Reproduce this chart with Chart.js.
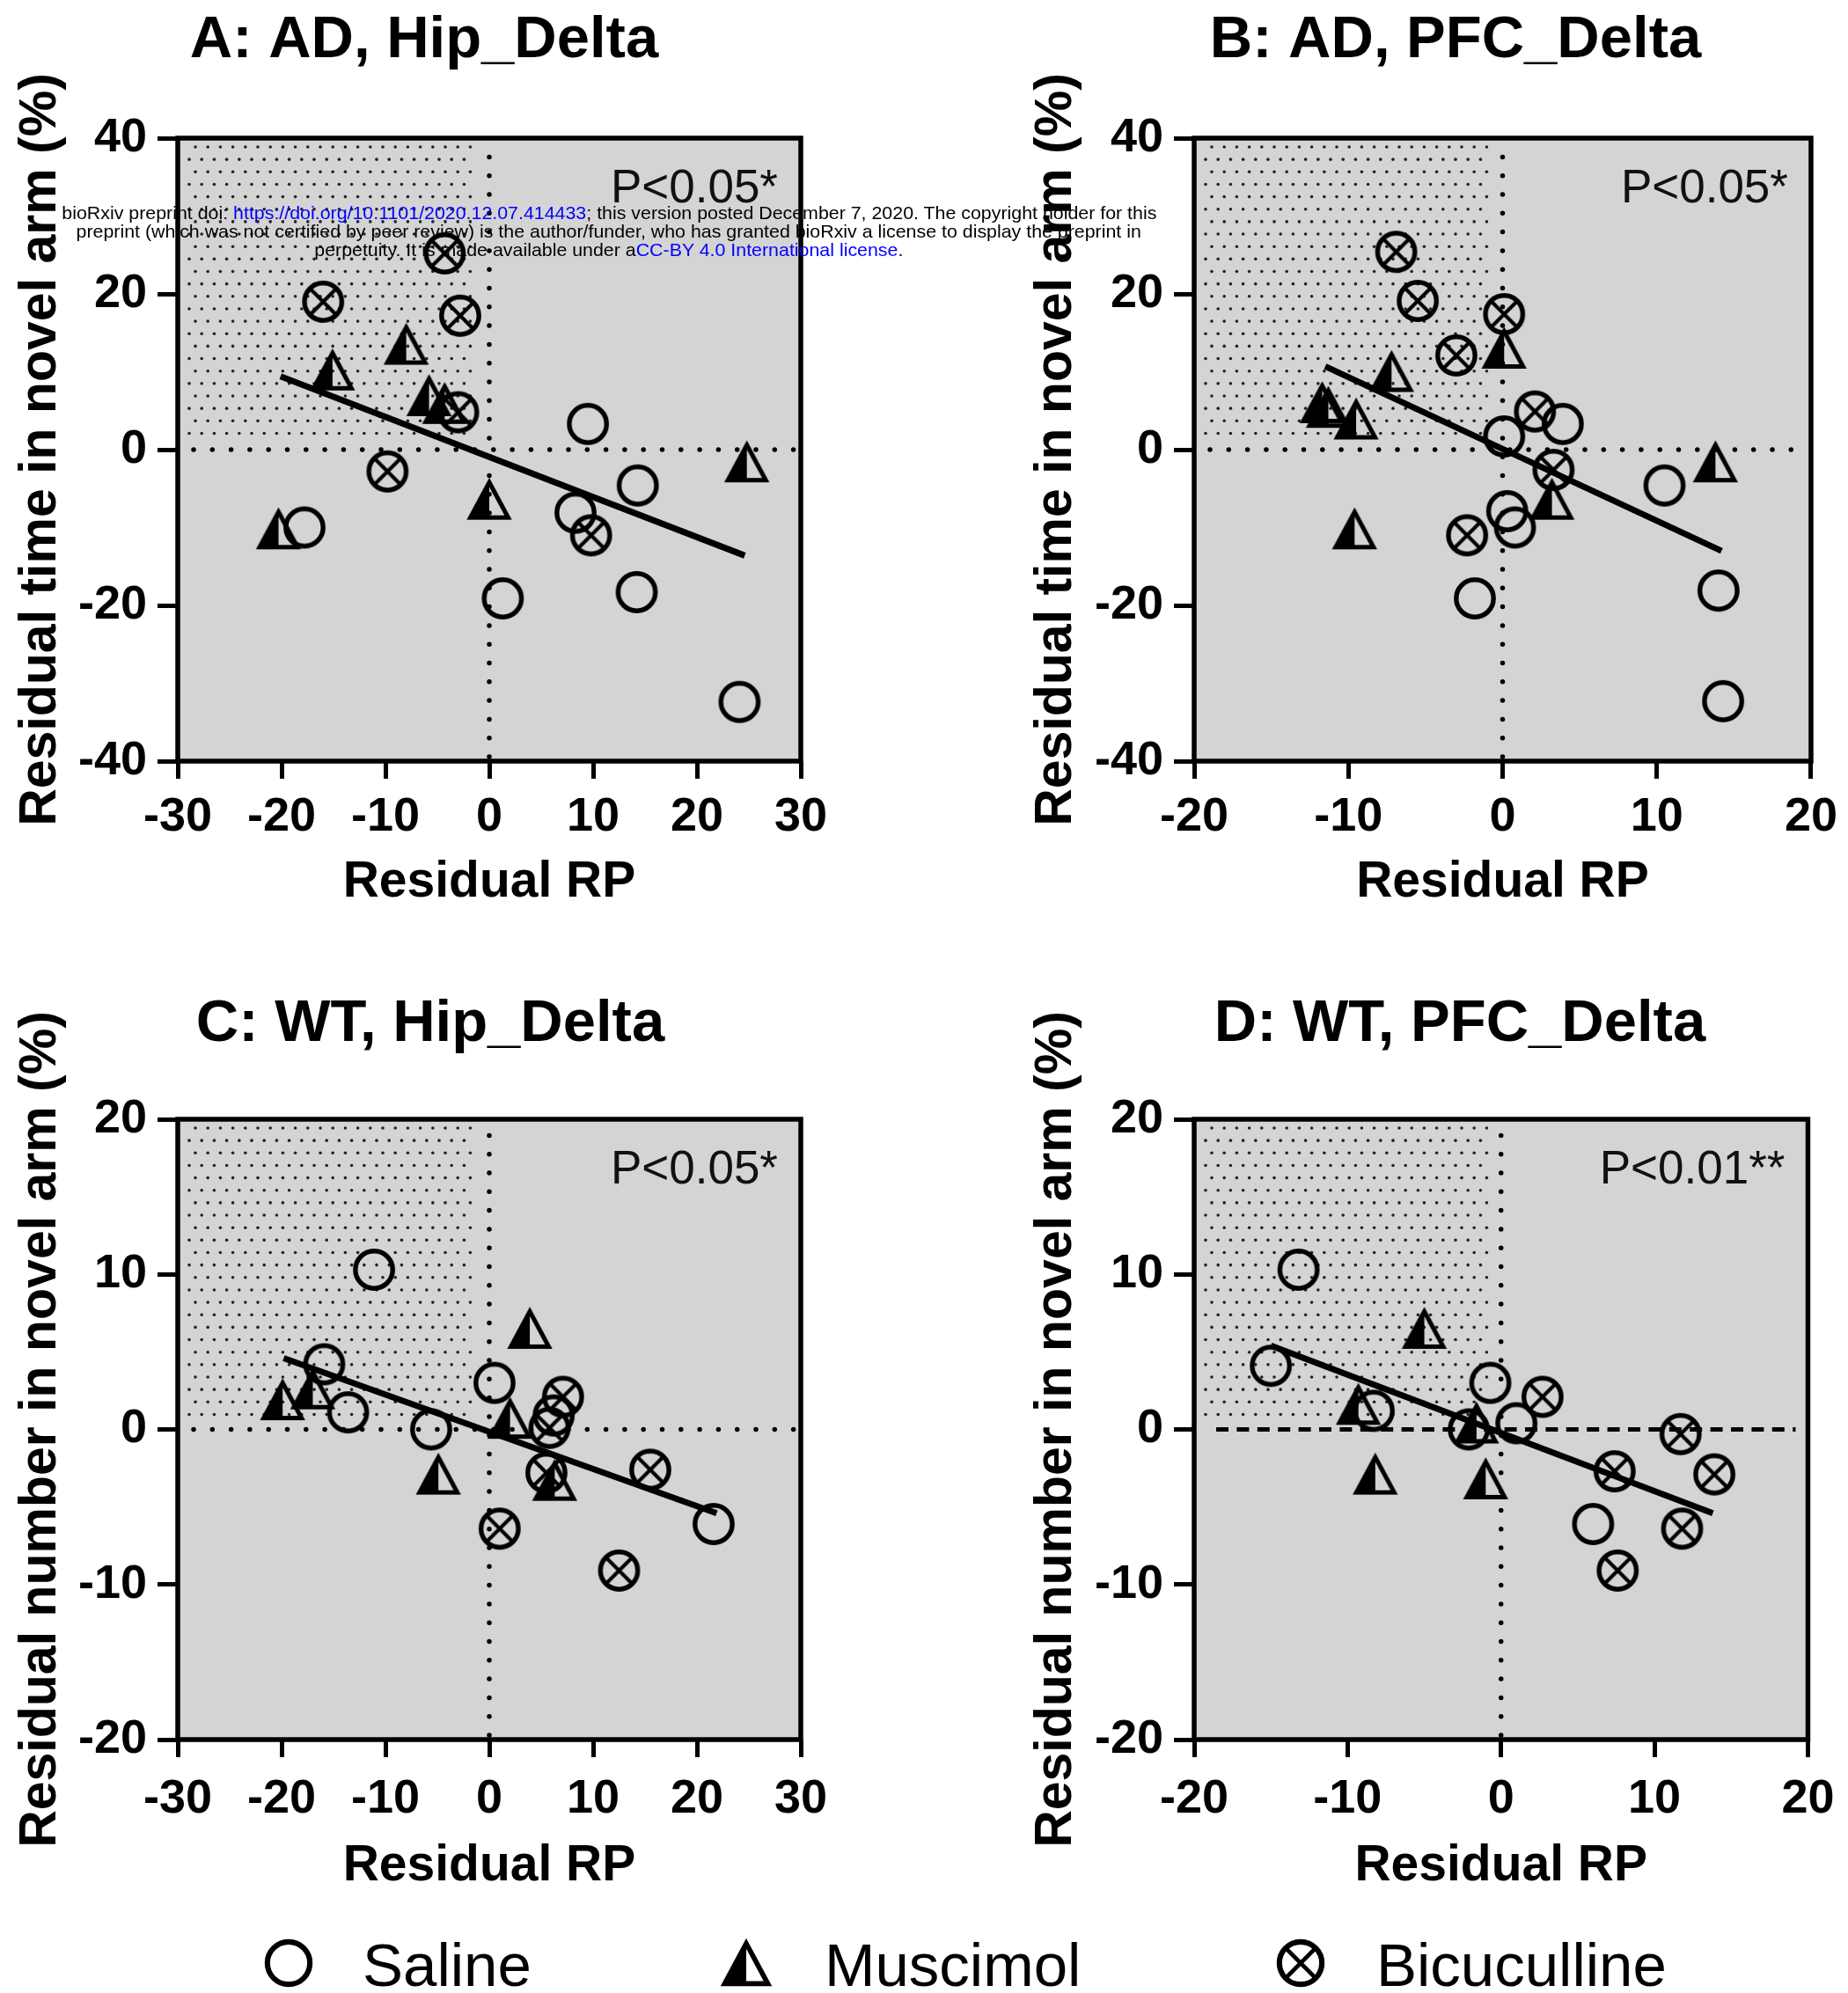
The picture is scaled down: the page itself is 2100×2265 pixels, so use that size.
<!DOCTYPE html>
<html>
<head>
<meta charset="utf-8">
<script src="https://cdn.jsdelivr.net/npm/chart.js@4.4.1/dist/chart.umd.min.js"></script>
<style>
html, body { margin:0; padding:0; background:#ffffff; width:2100px; height:2265px; overflow:hidden; position:relative; }
canvas.panel { position:absolute; }
.wm { position:absolute; left:0; width:1384px; text-align:center; font-family:'Liberation Sans', Arial, Helvetica, sans-serif; font-size:21px; line-height:21px; white-space:nowrap; color:#000; z-index:5; }
.wm span.in { display:inline-block; transform-origin:50% 50%; }
.lk { color:#0000ff; }
.lt { position:absolute; font-family:'Liberation Sans', Arial, Helvetica, sans-serif; font-size:69px; line-height:69px; color:#000; white-space:nowrap; }
.lm { position:absolute; }
</style>
</head>
<body>
<canvas class="panel" id="cA" width="960" height="1040" style="left:0px;top:0px"></canvas>
<canvas class="panel" id="cB" width="1050" height="1040" style="left:1050px;top:0px"></canvas>
<canvas class="panel" id="cC" width="960" height="1040" style="left:0px;top:1115px"></canvas>
<canvas class="panel" id="cD" width="1050" height="1040" style="left:1050px;top:1115px"></canvas>

<div class="wm" style="top:231px"><span class="in">bioRxiv preprint doi: <span class="lk">https://doi.org/10.1101/2020.12.07.414433</span>; this version posted December 7, 2020. The copyright holder for this</span></div>
<div class="wm" style="top:252px"><span class="in">preprint (which was not certified by peer review) is the author/funder, who has granted bioRxiv a license to display the preprint in</span></div>
<div class="wm" style="top:273px"><span class="in">perpetuity. It is made available under a<span class="lk">CC-BY 4.0 International license</span>.</span></div>

<div id="legend"></div>

<script>
// ---------------- DATA ----------------
const xTicksHip = [-30, -20, -10, 0, 10, 20, 30];
const xTicksPfc = [-20, -10, 0, 10, 20];
const yTicksAD  = [-40, -20, 0, 20, 40];
const yTicksWT  = [-20, -10, 0, 10, 20];

const seriesNames = ['Saline', 'Muscimol', 'Bicuculline'];

// A: AD, Hip_Delta
const A_saline_x      = [9.5, 14.3, 8.3, -17.8, 1.3, 14.2, 24.1];
const A_saline_y      = [3.3, -4.6, -8.1, -10.0, -19.1, -18.3, -32.4];
const A_muscimol_x    = [-8.0, -15.1, -5.8, -4.3, 0.0, -20.3, 24.8];
const A_muscimol_y    = [13.5, 10.2, 6.9, 5.9, -6.4, -10.2, -1.6];
const A_bicuculline_x = [-4.3, -16.0, -2.8, -3.0, -9.8, 9.8];
const A_bicuculline_y = [25.2, 19.0, 17.2, 4.8, -2.8, -11.0];
const A_fit_x = [-20.1, 24.6];
const A_fit_y = [9.4, -13.6];

// B: AD, PFC_Delta
const B_saline_x      = [0.1, 3.9, 10.5, 0.3, 0.8, -1.8, 14.0, 14.3];
const B_saline_y      = [1.7, 3.3, -4.6, -7.9, -10.0, -19.1, -18.1, -32.3];
const B_muscimol_x    = [0.1, -7.2, -11.7, -11.3, -9.5, 13.8, 3.2, -9.6];
const B_muscimol_y    = [13.0, 10.0, 6.0, 5.4, 3.9, -1.6, -6.4, -10.2];
const B_bicuculline_x = [-6.9, -5.5, 0.1, -3.0, 2.1, 3.3, -2.3];
const B_bicuculline_y = [25.4, 19.1, 17.4, 12.1, 4.9, -2.6, -11.0];
const B_fit_x = [-11.5, 14.2];
const B_fit_y = [10.7, -13.0];

// C: WT, Hip_Delta
const C_saline_x      = [-11.1, -15.9, -13.6, -5.6, 0.5, 6.2, 21.6];
const C_saline_y      = [10.3, 4.2, 1.1, 0.0, 3.0, 0.9, -6.1];
const C_muscimol_x    = [3.9, -17.0, -19.9, 2.0, -4.9, 6.3];
const C_muscimol_y    = [6.5, 2.6, 1.9, 0.7, -2.9, -3.3];
const C_bicuculline_x = [7.1, 5.8, 5.5, 15.5, 1.0, 12.5];
const C_bicuculline_y = [2.1, 0.1, -2.8, -2.6, -6.4, -9.1];
const C_fit_x = [-19.8, 21.9];
const C_fit_y = [4.6, -5.4];

// D: WT, PFC_Delta
const D_saline_x      = [-13.2, -15.0, -8.3, -0.7, 1.0, -2.1, 6.0];
const D_saline_y      = [10.3, 4.1, 1.2, 3.0, 0.4, 0.0, -6.1];
const D_muscimol_x    = [-5.0, -9.3, -8.2, -1.0, -1.6];
const D_muscimol_y    = [6.5, 1.6, -2.9, -3.2, 0.4];
const D_bicuculline_x = [2.7, 11.7, 7.4, 13.9, 11.8, 7.6];
const D_bicuculline_y = [2.1, -0.3, -2.7, -2.9, -6.4, -9.1];
const D_fit_x = [-15.0, 13.8];
const D_fit_y = [5.4, -5.4];

// ---------------- RENDERING ----------------
const FONT = "'Liberation Sans', Arial, Helvetica, sans-serif";
Chart.defaults.font.family = FONT;
Chart.defaults.color = '#000';

function markerCanvas(kind, s) {
  const size = Math.ceil(66 * s / 2) * 2;
  const c = document.createElement('canvas');
  c.width = size; c.height = size;
  const g = c.getContext('2d');
  g.translate(size / 2, size / 2);
  g.scale(s, s);
  g.strokeStyle = '#000'; g.fillStyle = '#000';
  if (kind === 'circle' || kind === 'otimes') {
    g.lineWidth = 5.4;
    g.beginPath(); g.arc(0, 0, 21.2, 0, Math.PI * 2); g.stroke();
    if (kind === 'otimes') {
      const d = 21.2 * Math.SQRT1_2;
      g.lineWidth = 4.2;
      g.beginPath(); g.moveTo(-d, -d); g.lineTo(d, d); g.moveTo(d, -d); g.lineTo(-d, d); g.stroke();
    }
  } else {
    g.lineWidth = 5; g.lineJoin = 'miter'; g.miterLimit = 10;
    g.beginPath(); g.moveTo(0, -19.5); g.lineTo(-21.5, 20.5); g.lineTo(0, 20.5); g.closePath(); g.fill();
    g.beginPath(); g.moveTo(0, -19.5); g.lineTo(21.5, 20.5); g.lineTo(-21.5, 20.5); g.closePath(); g.stroke();
  }
  return c;
}

const mk = { circle: markerCanvas('circle', 1), tri: markerCanvas('tri', 1), otimes: markerCanvas('otimes', 1) };

function zip(xs, ys) { return xs.map((v, i) => ({ x: v, y: ys[i] })); }

const panelDeco = {
  id: 'panelDeco',
  beforeDraw(chart, args, o) {
    const { ctx, chartArea: a } = chart;
    const x0 = chart.scales.x.getPixelForValue(0), y0 = chart.scales.y.getPixelForValue(0);
    ctx.save();
    ctx.fillStyle = '#d4d4d4';
    ctx.fillRect(a.left, a.top, a.width, a.height);
    ctx.fillStyle = '#222';
    let r = 0;
    for (let py = a.top + 10; py <= y0 - 14; py += 14.15, r++) {
      for (let px = a.left + (r % 2 ? 13 : 20); px <= x0 - 16; px += 14.2) {
        ctx.beginPath(); ctx.arc(px, py, 1.8, 0, Math.PI * 2); ctx.fill();
      }
    }
    ctx.restore();
  },
  beforeDatasetsDraw(chart, args, o) {
    const { ctx, chartArea: a } = chart;
    const x0 = chart.scales.x.getPixelForValue(0), y0 = chart.scales.y.getPixelForValue(0);
    ctx.save();
    ctx.strokeStyle = '#000';
    ctx.lineWidth = 5.5; ctx.lineCap = 'round'; ctx.setLineDash([0, 21.3]);
    ctx.beginPath(); ctx.moveTo(x0, a.bottom - 5); ctx.lineTo(x0, a.top + 16); ctx.stroke();
    if (o.dashed) {
      ctx.lineCap = 'butt'; ctx.lineWidth = 4.8; ctx.setLineDash([14, 9.4]);
      ctx.beginPath(); ctx.moveTo(a.left + 25, y0); ctx.lineTo(a.right - 14, y0); ctx.stroke();
    } else {
      ctx.beginPath(); ctx.moveTo(a.left + 18, y0); ctx.lineTo(a.right - 4, y0); ctx.stroke();
    }
    ctx.restore();
  },
  afterDatasetsDraw(chart, args, o) {
    const { ctx, chartArea: a } = chart;
    ctx.save();
    ctx.strokeStyle = '#000'; ctx.lineWidth = 5.5; ctx.setLineDash([]);
    ctx.strokeRect(a.left, a.top, a.width, a.height);
    ctx.font = '53px ' + FONT; ctx.fillStyle = '#111';
    ctx.textAlign = 'right'; ctx.textBaseline = 'alphabetic';
    ctx.fillText(o.pText, a.right - 26, a.top + 73);
    ctx.restore();
  }
};

const panels = [
  { id: 'cA', title: 'A: AD, Hip_Delta', yTitle: 'Residual time in novel arm (%)', xt: xTicksHip, yt: yTicksAD,
    sal: zip(A_saline_x, A_saline_y), mus: zip(A_muscimol_x, A_muscimol_y), bic: zip(A_bicuculline_x, A_bicuculline_y), fit: zip(A_fit_x, A_fit_y),
    pText: 'P<0.05*', dashed: false,
    pad: { left: 54, right: 50, top: 0, bottom: 8.5 }, yW: 148, y2W: 0, yTP: -36.5, xH: 166.5, xPad: 12, tTop: 13.3, tBot: 76.7 },
  { id: 'cB', title: 'B: AD, PFC_Delta', yTitle: 'Residual time in novel arm (%)', xt: xTicksPfc, yt: yTicksAD,
    sal: zip(B_saline_x, B_saline_y), mus: zip(B_muscimol_x, B_muscimol_y), bic: zip(B_bicuculline_x, B_bicuculline_y), fit: zip(B_fit_x, B_fit_y),
    pText: 'P<0.05*', dashed: false,
    pad: { left: 190, right: 32, top: 0, bottom: 8.5 }, yW: 117, y2W: 5, yTP: -68.5, xH: 166.5, xPad: 12, tTop: 13.3, tBot: 76.7 },
  { id: 'cC', title: 'C: WT, Hip_Delta', yTitle: 'Residual number in novel arm (%)', xt: xTicksHip, yt: yTicksWT,
    sal: zip(C_saline_x, C_saline_y), mus: zip(C_muscimol_x, C_muscimol_y), bic: zip(C_bicuculline_x, C_bicuculline_y), fit: zip(C_fit_x, C_fit_y),
    pText: 'P<0.05*', dashed: false,
    pad: { left: 68, right: 50, top: 0, bottom: 5.5 }, yW: 134, y2W: 0, yTP: -50.5, xH: 172.5, xPad: 15.5, tTop: 16.3, tBot: 73.7 },
  { id: 'cD', title: 'D: WT, PFC_Delta', yTitle: 'Residual number in novel arm (%)', xt: xTicksPfc, yt: yTicksWT,
    sal: zip(D_saline_x, D_saline_y), mus: zip(D_muscimol_x, D_muscimol_y), bic: zip(D_bicuculline_x, D_bicuculline_y), fit: zip(D_fit_x, D_fit_y),
    pText: 'P<0.01**', dashed: true,
    pad: { left: 190, right: 22, top: 0, bottom: 5.5 }, yW: 117, y2W: 15, yTP: -68.5, xH: 172.5, xPad: 15.5, tTop: 16.3, tBot: 73.7 }
];

panels.forEach(p => {
  const xt = p.xt, yt = p.yt;
  const scales = {
    x: {
      type: 'linear', min: xt[0], max: xt[xt.length - 1],
      afterBuildTicks: s => { s.ticks = xt.map(v => ({ value: v })); },
      afterFit: s => { s.height = p.xH; },
      grid: { drawOnChartArea: false, drawTicks: true, tickLength: 20, tickWidth: 5, lineWidth: 5, tickColor: '#000', color: '#000' },
      border: { display: false },
      ticks: { color: '#000', font: { family: FONT, size: 54, weight: 'bold' }, padding: p.xPad, maxRotation: 0, autoSkip: false },
      title: { display: true, text: 'Residual RP', color: '#000', font: { family: FONT, size: 57, weight: 'bold', lineHeight: 1 }, padding: { top: 0, bottom: 0 } }
    },
    y: {
      type: 'linear', min: yt[0], max: yt[yt.length - 1],
      afterBuildTicks: s => { s.ticks = yt.map(v => ({ value: v })); },
      afterFit: s => { s.width = p.yW; },
      grid: { drawOnChartArea: false, drawTicks: true, tickLength: 23, tickWidth: 5, lineWidth: 5, tickColor: '#000', color: '#000' },
      border: { display: false },
      ticks: { color: '#000', font: { family: FONT, size: 54, weight: 'bold' }, padding: 12, autoSkip: false },
      title: { display: true, text: p.yTitle, color: '#000', font: { family: FONT, size: 59, weight: 'bold', lineHeight: 1 }, padding: { top: p.yTP, bottom: 0 } }
    }
  };
  if (p.y2W > 0) {
    // empty spacer on the right, used only to balance the centred panel title
    scales.y2 = {
      type: 'linear', position: 'right', display: true, min: yt[0], max: yt[yt.length - 1],
      afterFit: s => { s.width = p.y2W; },
      grid: { display: false, drawTicks: false }, border: { display: false },
      ticks: { display: false }, title: { display: false }
    };
  }
  new Chart(document.getElementById(p.id), {
    type: 'scatter',
    data: {
      datasets: [
        { label: 'fit', data: p.fit, showLine: true, borderColor: '#000', borderWidth: 7, pointRadius: 0, borderCapStyle: 'butt', clip: false },
        { label: seriesNames[0], data: p.sal, pointStyle: mk.circle, pointRadius: 20, clip: false },
        { label: seriesNames[1], data: p.mus, pointStyle: mk.tri, pointRadius: 20, clip: false },
        { label: seriesNames[2], data: p.bic, pointStyle: mk.otimes, pointRadius: 20, clip: false }
      ]
    },
    options: {
      responsive: false, animation: false, events: [],
      layout: { padding: p.pad },
      plugins: {
        legend: { display: false }, tooltip: { enabled: false },
        title: { display: true, text: p.title, color: '#000',
                 font: { family: FONT, size: 67, weight: 'bold', lineHeight: 1 },
                 padding: { top: p.tTop, bottom: p.tBot } },
        panelDeco: { pText: p.pText, dashed: p.dashed }
      },
      scales: scales
    },
    plugins: [panelDeco]
  });
});

// ---------------- LEGEND ----------------
const legendItems = [
  { name: seriesNames[0], kind: 'circle', cx: 328, tx: 412 },
  { name: seriesNames[1], kind: 'tri', cx: 848, tx: 937 },
  { name: seriesNames[2], kind: 'otimes', cx: 1478, tx: 1564 }
];
const legendEl = document.getElementById('legend');
legendItems.forEach(it => {
  const c = markerCanvas(it.kind, 1.14);
  c.className = 'lm';
  c.style.left = (it.cx - c.width / 2) + 'px';
  c.style.top = (2231 - c.height / 2) + 'px';
  legendEl.appendChild(c);
  const t = document.createElement('div');
  t.className = 'lt';
  t.textContent = it.name;
  t.style.left = it.tx + 'px';
  t.style.top = '2199px';
  legendEl.appendChild(t);
});

// fit watermark width
(function () {
  const spans = document.querySelectorAll('.wm span.in');
  const w = spans[0].getBoundingClientRect().width;
  const k = 1244 / w;
  spans.forEach(s => { s.style.transform = 'scaleX(' + k.toFixed(4) + ')'; });
})();
</script>
</body>
</html>
